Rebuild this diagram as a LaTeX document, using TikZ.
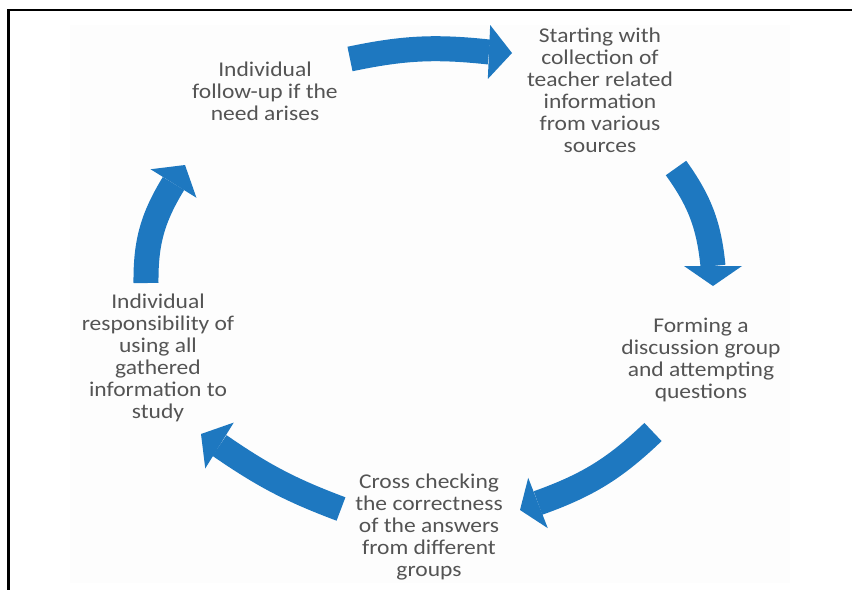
\documentclass[tikz,border=0pt]{standalone}
\usepackage{fontspec}
\setmainfont{Carlito}[FakeStretch=1.12]
\usetikzlibrary{calc}
\definecolor{cycblue}{RGB}{30,120,192}
\definecolor{txtgray}{RGB}{84,84,84}
\definecolor{panel}{RGB}{253,253,253}
\tikzset{
  lbl/.style={align=center, text=txtgray, font=\fontsize{21}{22}\selectfont, inner sep=0pt, anchor=north},
  shaft/.style={draw=cycblue, line width=25pt},
  headtip/.style={fill=cycblue},
  frame/.style={draw=black, line width=2.5pt, line join=miter}
}
\begin{document}
\begin{tikzpicture}[x=1pt,y=1pt]
\useasboundingbox (0,0) rectangle (852,-590);
\fill[panel] (70,-25) rectangle (790,-583);
\draw[frame] (852,-10) -- (8.5,-10) -- (8.5,-590);

% text nodes
\node[lbl] (fu) at (265,-60.6) {\strut Individual\\follow-up if the\\need arises};
\node[lbl] (st) at (600,-26.6) {\strut Starting with\\collection of\\teacher related\\information\\from various\\sources};
\node[lbl] (fo) at (701,-316.6) {\strut Forming a\\discussion group\\and attempting\\questions};
\node[lbl] (cr) at (429,-472.6) {\strut Cross checking\\the correctness\\of the answers\\from different\\groups};
\node[lbl] (ir) at (158,-292.6) {\strut Individual\\responsibility of\\using all\\gathered\\information to\\study};

% arrow tails (t), head bases (b) and tips (h)
\coordinate (t1) at (350,-59);  \coordinate (b1) at (489,-52);    \coordinate (h1) at (512,-53);
\coordinate (t2) at (676,-168); \coordinate (b2) at (713,-266);   \coordinate (h2) at (713,-286);
\coordinate (t3) at (653,-432); \coordinate (b3) at (538,-503);   \coordinate (h3) at (520,-510);
\coordinate (t4) at (341,-509); \coordinate (b4) at (219.5,-445.5); \coordinate (h4) at (201,-434);
\coordinate (t5) at (146,-283); \coordinate (b5) at (173.5,-183.5); \coordinate (h5) at (185,-165);

\draw[shaft] (t1) to[bend left=9]  (b1);
\draw[shaft] (t2) to[bend left=15] (b2);
\draw[shaft] (t3) to[bend left=12] (b3);
\draw[shaft] (t4) to[bend left=7]  (b4);
\draw[shaft] (t5) to[bend left=16] (b5);

\fill[headtip] ($(b1)!27pt!90:(h1)$) -- (h1) -- ($(b1)!27pt!-90:(h1)$) -- cycle;
\fill[headtip] ($(b2)!29pt!90:(h2)$) -- (h2) -- ($(b2)!29pt!-90:(h2)$) -- cycle;
\fill[headtip] ($(b3)!27pt!90:(h3)$) -- (h3) -- ($(b3)!27pt!-90:(h3)$) -- cycle;
\fill[headtip] ($(b4)!27pt!90:(h4)$) -- (h4) -- ($(b4)!27pt!-90:(h4)$) -- cycle;
\fill[headtip] ($(b5)!27pt!90:(h5)$) -- (h5) -- ($(b5)!27pt!-90:(h5)$) -- cycle;
\end{tikzpicture}
\end{document}
